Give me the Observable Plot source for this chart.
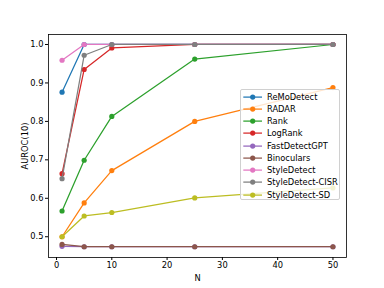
<!DOCTYPE html>
<html><head><meta charset="utf-8">
<script src="https://cdn.jsdelivr.net/npm/d3@7"></script>
<script src="https://cdn.jsdelivr.net/npm/@observablehq/plot@0.6"></script>
<style>
body{margin:0;background:#fff;}
#wrap{position:relative;width:384px;height:288px;font-family:"DejaVu Sans";}
#legend{position:absolute;left:240px;top:89px;width:100px;height:111px;border:1px solid #d0d0d0;border-radius:2px;background:rgba(255,255,255,0.8);box-sizing:border-box;padding-top:0.5px;}
.row{position:relative;height:12.25px;line-height:12.25px;font-size:8.3px;color:#000;white-space:nowrap;}
.row svg{position:absolute;left:1px;top:0;}
.row span{position:absolute;left:26px;top:0;}
</style>
</head><body><div id="wrap"></div>
<script>
const N = [1, 5, 10, 25, 50];
const names = ["ReMoDetect","RADAR","Rank","LogRank","FastDetectGPT","Binoculars","StyleDetect","StyleDetect-CISR","StyleDetect-SD"];
const colors = ["#1f77b4","#ff7f0e","#2ca02c","#d62728","#9467bd","#8c564b","#e377c2","#7f7f7f","#bcbd22"];
const remodetect = [0.876, 1.0, 1.0, 1.0, 1.0];
const radar = [0.500, 0.588, 0.672, 0.800, 0.888];
const rank = [0.567, 0.699, 0.813, 0.962, 1.0];
const logrank = [0.664, 0.935, 0.991, 1.0, 1.0];
const fastdetect = [0.475, 0.474, 0.474, 0.474, 0.474];
const binoculars = [0.480, 0.474, 0.474, 0.474, 0.474];
const styledetect = [0.959, 1.0, 1.0, 1.0, 1.0];
const cisr = [0.651, 0.972, 1.0, 1.0, 1.0];
const sd = [0.500, 0.554, 0.563, 0.601, 0.627];
const values = [remodetect, radar, rank, logrank, fastdetect, binoculars, styledetect, cisr, sd];
const yTicks = [0.5, 0.6, 0.7, 0.8, 0.9, 1.0];
const xTicks = [0, 10, 20, 30, 40, 50];

const rows = names.flatMap((s, i) => N.map((n, j) => ({series: s, N: n, v: values[i][j]})));
const marks = [];
names.forEach(s => {
  const d = rows.filter(r => r.series === s);
  marks.push(Plot.line(d, {x: "N", y: "v", stroke: "series", strokeWidth: 1.25}));
  marks.push(Plot.dot(d, {x: "N", y: "v", fill: "series", r: 2.6}));
});

const chart = Plot.plot({
  width: 384, height: 288,
  marginLeft: 48, marginRight: 38, marginTop: 34, marginBottom: 31,
  style: {fontFamily: "DejaVu Sans", fontSize: "8.3px", background: "white", color: "black"},
  x: {domain: [-1.45, 52.45]},
  y: {domain: [0.446, 1.026]},
  color: {domain: names, range: colors},
  marks: [
    ...marks,
    Plot.frame({stroke: "black", strokeWidth: 0.8}),
    Plot.axisX({ticks: xTicks, tickSize: 3, tickPadding: 2, label: "N", labelAnchor: "center", labelArrow: "none", labelOffset: 23}),
    Plot.axisY({ticks: yTicks, tickFormat: ".1f", tickSize: 3, tickPadding: 2, label: "AUROC(10)", labelAnchor: "center", labelArrow: "none", labelOffset: 26})
  ]
});
const wrap = document.getElementById("wrap");
wrap.appendChild(chart);

const leg = document.createElement("div");
leg.id = "legend";
names.forEach((s, i) => {
  const r = document.createElement("div");
  r.className = "row";
  r.innerHTML = `<svg width="22" height="12.25"><line x1="1.3" x2="20" y1="6.1" y2="6.1" stroke="${colors[i]}" stroke-width="1.25"/><circle cx="10.7" cy="6.1" r="2.6" fill="${colors[i]}"/></svg><span>${s}</span>`;
  leg.appendChild(r);
});
wrap.appendChild(leg);
</script>
</body></html>
